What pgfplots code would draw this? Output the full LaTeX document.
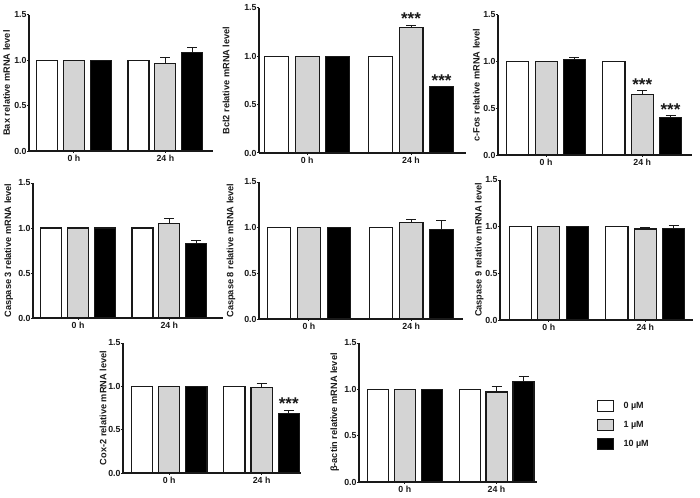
\documentclass[border=0pt]{standalone}
\usepackage{pgfplots}
\pgfplotsset{compat=1.18}
\usepackage{fontspec}
\setmainfont{Liberation Sans}
\definecolor{barg}{RGB}{212,212,212}
\definecolor{edge}{RGB}{25,25,25}

\tikzset{stars/.style={font=\bfseries\fontsize{17}{17}\selectfont, anchor=base, inner sep=0pt, text=edge}}
\pgfplotsset{
  panel/.style={
    scale only axis,
    anchor=south west,
    axis lines=left,
    axis line style={-, line width=1.2pt, edge},
    ymin=0, ymax=1.5,
    ytick={0,0.5,1,1.5},
    yticklabel style={inner xsep=0.5pt, /pgf/number format/.cd, fixed, fixed zerofill, precision=1, assume math mode=true},
    xticklabel style={inner ysep=2pt},
    xtick={1,4.4},
    xticklabels={0 h, 24 h},
    tick label style={font=\bfseries\fontsize{8.8}{10}\selectfont, text=edge},
    ylabel style={font=\bfseries\fontsize{9.2}{10}\selectfont, anchor=center, text=edge},
    major tick length=1.8pt,
    tick align=outside,
    tick style={line width=1pt, edge},
    clip=false,
  },
  bars/.style={ybar, bar width=0.78, bar shift=0pt, draw=edge, line width=1.1pt,
    error bars/y dir=plus, error bars/y explicit,
    error bars/error bar style={line width=1pt, edge},
    error bars/error mark options={rotate=90, mark size=5pt, line width=1pt, edge}},
  wb/.style={bars, fill=white,
    legend image code/.code={\draw[line width=0.9pt, draw=edge, fill=white] (0pt,-5.5pt) rectangle (16pt,5.5pt);}},
  gb/.style={bars, fill=barg,
    legend image code/.code={\draw[line width=0.9pt, draw=edge, fill=barg] (0pt,-5.5pt) rectangle (16pt,5.5pt);}},
  kb/.style={bars, fill=black,
    legend image code/.code={\draw[line width=0.9pt, draw=edge, fill=black] (0pt,-5.5pt) rectangle (16pt,5.5pt);}},
}

\begin{document}
\begin{tikzpicture}
\useasboundingbox (0,0) rectangle (700pt,-497pt);

% Bax
\begin{axis}[panel, at={(29pt,-151pt)}, width=184pt, height=136pt, xmin=-0.67, xmax=6.17,
  ylabel={Bax relative mRNA level}, ylabel style={at={(axis description cs:-0.122,0.5)}}]
\addplot[wb] coordinates {(0,1) +- (0,0) (3.4,1) +- (0,0)};
\addplot[gb] coordinates {(1,1) +- (0,0) (4.4,0.97) +- (0,0.058)};
\addplot[kb] coordinates {(2,1) +- (0,0) (5.4,1.087) +- (0,0.05)};
\end{axis}

% Bcl2
\begin{axis}[panel, at={(259pt,-153pt)}, width=207pt, height=145pt, xmin=-0.58, xmax=6.2,
  ylabel={Bcl2 relative mRNA level}, ylabel style={at={(axis description cs:-0.159,0.5)}}]
\addplot[wb] coordinates {(0,1) +- (0,0) (3.4,1) +- (0,0)};
\addplot[gb] coordinates {(1,1) +- (0,0) (4.4,1.30) +- (0,0.022)};
\addplot[kb] coordinates {(2,1) +- (0,0) (5.4,0.687) +- (0,0.005)};
\node[stars] at (axis cs:4.4,1.325) {***};
\node[stars] at (axis cs:5.4,0.692) {***};
\end{axis}

% c-Fos
\begin{axis}[panel, at={(498pt,-155pt)}, width=194pt, height=140pt, xmin=-0.70, xmax=6.16,
  ylabel={c-Fos relative mRNA level}, ylabel style={at={(axis description cs:-0.112,0.5)}}]
\addplot[wb] coordinates {(0,1) +- (0,0) (3.4,1) +- (0,0)};
\addplot[gb] coordinates {(1,1) +- (0,0.005) (4.4,0.651) +- (0,0.035)};
\addplot[kb] coordinates {(2,1.028) +- (0,0.018) (5.4,0.399) +- (0,0.021)};
\node[stars] at (axis cs:4.4,0.69) {***};
\node[stars] at (axis cs:5.4,0.42) {***};
\end{axis}

% Caspase 3
\begin{axis}[panel, at={(33pt,-318pt)}, width=190pt, height=135pt, xmin=-0.68, xmax=6.4,
  ylabel={Caspase 3 relative mRNA level}, ylabel style={at={(axis description cs:-0.128,0.5)}}]
\addplot[wb] coordinates {(0,1) +- (0,0) (3.4,1) +- (0,0)};
\addplot[gb] coordinates {(1,1) +- (0,0) (4.4,1.052) +- (0,0.055)};
\addplot[kb] coordinates {(2,1) +- (0,0) (5.4,0.83) +- (0,0.03)};
\end{axis}

% Caspase 8
\begin{axis}[panel, at={(259pt,-319pt)}, width=204pt, height=137pt, xmin=-0.66, xmax=6.12,
  ylabel={Caspase 8 relative mRNA level}, ylabel style={at={(axis description cs:-0.137,0.5)}}]
\addplot[wb] coordinates {(0,1) +- (0,0) (3.4,1) +- (0,0)};
\addplot[gb] coordinates {(1,1) +- (0,0) (4.4,1.055) +- (0,0.037)};
\addplot[kb] coordinates {(2,1) +- (0,0) (5.4,0.978) +- (0,0.10)};
\end{axis}

% Caspase 9
\begin{axis}[panel, at={(500pt,-320pt)}, width=193pt, height=140pt, xmin=-0.72, xmax=6.08,
  ylabel={Caspase 9 relative mRNA level}, ylabel style={at={(axis description cs:-0.108,0.5)}}]
\addplot[wb] coordinates {(0,1) +- (0,0) (3.4,1) +- (0,0)};
\addplot[gb] coordinates {(1,1) +- (0,0) (4.4,0.975) +- (0,0.018)};
\addplot[kb] coordinates {(2,1) +- (0,0) (5.4,0.979) +- (0,0.032)};
\end{axis}

% Cox-2
\begin{axis}[panel, at={(123pt,-473pt)}, width=178pt, height=130pt, xmin=-0.70, xmax=5.85,
  ylabel={Cox-2 relative mRNA level}, ylabel style={at={(axis description cs:-0.112,0.5)}}]
\addplot[wb] coordinates {(0,1) +- (0,0) (3.4,1) +- (0,0)};
\addplot[gb] coordinates {(1,1) +- (0,0) (4.4,0.988) +- (0,0.05)};
\addplot[kb] coordinates {(2,1) +- (0,0) (5.4,0.69) +- (0,0.03)};
\node[stars] at (axis cs:5.4,0.73) {***};
\end{axis}

% beta-actin
\begin{axis}[panel, at={(359pt,-482pt)}, width=178pt, height=139pt, xmin=-0.70, xmax=5.9,
  ylabel={β-actin relative mRNA level}, ylabel style={at={(axis description cs:-0.137,0.5)}},
  legend style={at={(axis description cs:1.334,0.59)}, anchor=north west, draw=none, fill=none,
    inner sep=0pt, row sep=7pt, font=\bfseries\fontsize{9}{10}\selectfont, text=edge,
    /tikz/every odd column/.append style={column sep=8pt}},
  legend cell align=left]
\addplot[wb] coordinates {(0,1) +- (0,0) (3.4,1) +- (0,0)};
\addplot[gb] coordinates {(1,1) +- (0,0) (4.4,0.971) +- (0,0.065)};
\addplot[kb] coordinates {(2,1) +- (0,0) (5.4,1.086) +- (0,0.054)};
\legend{0 µM, 1 µM, 10 µM}
\end{axis}
\end{tikzpicture}
\end{document}
